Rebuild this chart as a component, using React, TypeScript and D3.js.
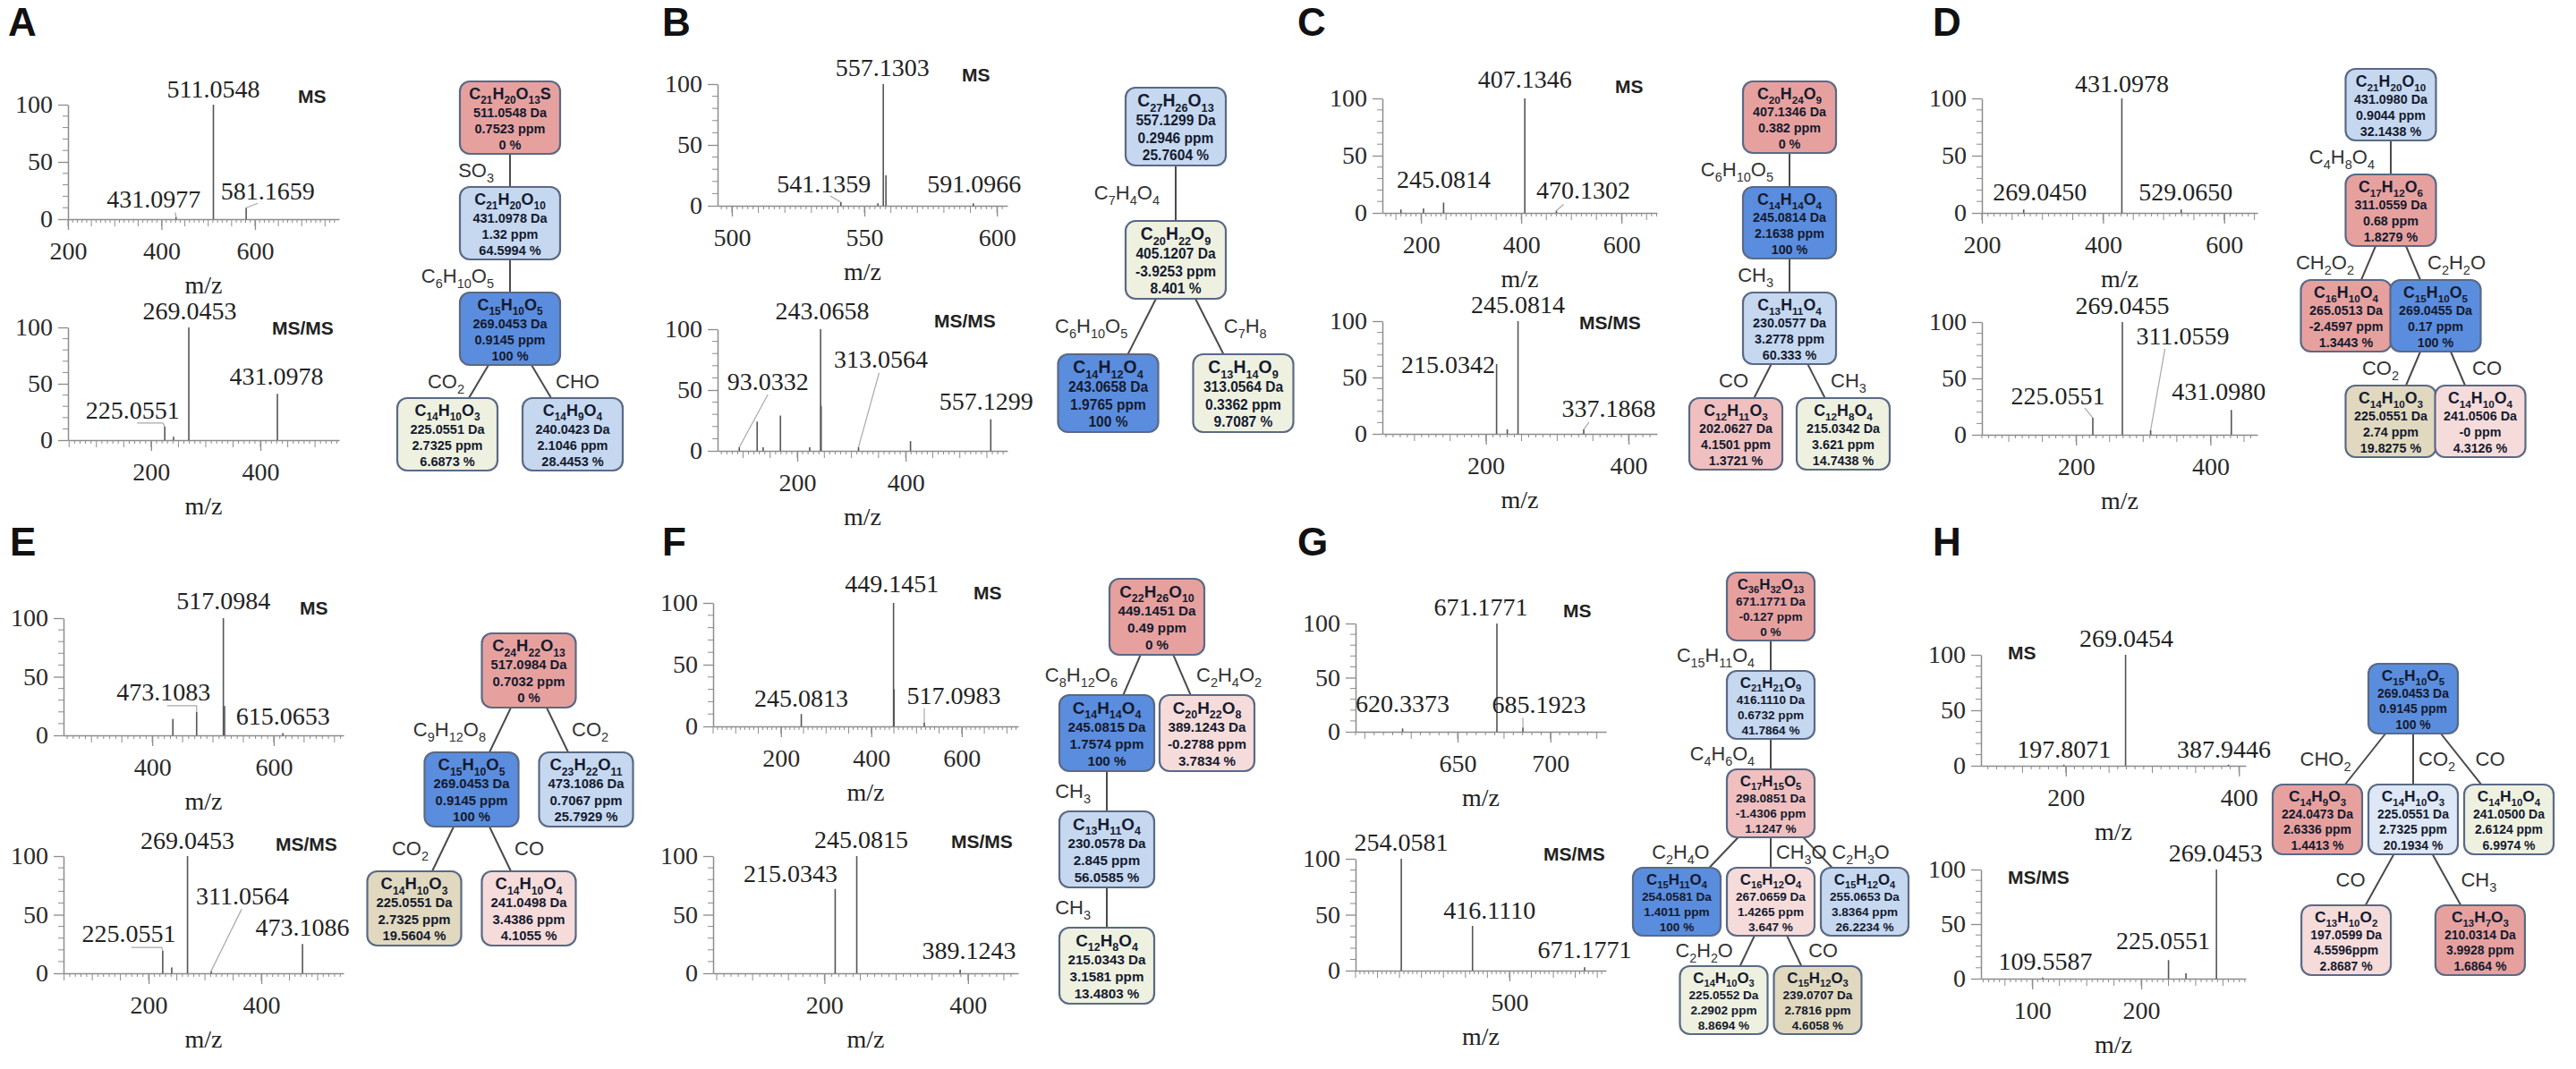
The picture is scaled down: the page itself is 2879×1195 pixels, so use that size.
import { useEffect, useRef } from 'react';
import * as d3 from 'd3';

const WIDTH = 2879;
const HEIGHT = 1195;
const SERIF = '"Liberation Serif", "Times New Roman", serif';
const SANS = '"Liberation Sans", Arial, sans-serif';

// ---------- panel A ----------
const aMsDomain = [200, 780];
const aMsTicks = [200, 400, 600];
const aMsPeaks = [
  { mz: 431.0977, i: 2 },
  { mz: 511.0548, i: 100 },
  { mz: 581.1659, i: 10 },
];
const aMsLabels = [511.0548, 431.0977, 581.1659];
const aMsmsDomain = [48, 544];
const aMsmsTicks = [200, 400];
const aMsmsPeaks = [
  { mz: 225.0551, i: 12 },
  { mz: 241.05, i: 3 },
  { mz: 269.0453, i: 100 },
  { mz: 431.0978, i: 41 },
];
const aMsmsLabels = [269.0453, 431.0978, 225.0551];
const aTree = [
  { id: '511', parent: '', f: 'C21H20O13S', da: '511.0548 Da', ppm: '0.7523 ppm', pct: '0 %', loss: '' },
  { id: '431', parent: '511', f: 'C21H20O10', da: '431.0978 Da', ppm: '1.32 ppm', pct: '64.5994 %', loss: 'SO3' },
  { id: '269', parent: '431', f: 'C15H10O5', da: '269.0453 Da', ppm: '0.9145 ppm', pct: '100 %', loss: 'C6H10O5' },
  { id: '225', parent: '269', f: 'C14H10O3', da: '225.0551 Da', ppm: '2.7325 ppm', pct: '6.6873 %', loss: 'CO2' },
  { id: '240', parent: '269', f: 'C14H9O4', da: '240.0423 Da', ppm: '2.1046 ppm', pct: '28.4453 %', loss: 'CHO' },
];

// ---------- panel B ----------
const bMsDomain = [494.6, 604];
const bMsTicks = [500, 550, 600];
const bMsPeaks = [
  { mz: 541.1359, i: 3 },
  { mz: 555.1, i: 2 },
  { mz: 557.1303, i: 100 },
  { mz: 558.13, i: 25 },
  { mz: 591.0966, i: 2 },
];
const bMsLabels = [557.1303, 541.1359, 591.0966];
const bMsmsDomain = [53, 588];
const bMsmsTicks = [200, 400];
const bMsmsPeaks = [
  { mz: 93.0332, i: 3 },
  { mz: 126, i: 24 },
  { mz: 137, i: 3 },
  { mz: 169, i: 29 },
  { mz: 223, i: 3 },
  { mz: 243.0658, i: 100 },
  { mz: 244.07, i: 37 },
  { mz: 313.0564, i: 3 },
  { mz: 409, i: 8 },
  { mz: 557.1299, i: 26 },
];
const bMsmsLabels = [243.0658, 557.1299, 313.0564, 93.0332];
const bTree = [
  { id: '557', parent: '', f: 'C27H26O13', da: '557.1299 Da', ppm: '0.2946 ppm', pct: '25.7604 %', loss: '' },
  { id: '405', parent: '557', f: 'C20H22O9', da: '405.1207 Da', ppm: '-3.9253 ppm', pct: '8.401 %', loss: 'C7H4O4' },
  { id: '243', parent: '405', f: 'C14H12O4', da: '243.0658 Da', ppm: '1.9765 ppm', pct: '100 %', loss: 'C6H10O5' },
  { id: '313', parent: '405', f: 'C13H14O9', da: '313.0564 Da', ppm: '0.3362 ppm', pct: '9.7087 %', loss: 'C7H8' },
];

// ---------- panel C ----------
const cMsDomain = [123, 671];
const cMsTicks = [200, 400, 600];
const cMsPeaks = [
  { mz: 160, i: 3 },
  { mz: 205, i: 4 },
  { mz: 245.0814, i: 9 },
  { mz: 407.1346, i: 100 },
  { mz: 470.1302, i: 2 },
];
const cMsLabels = [407.1346, 245.0814, 470.1302];
const cMsmsDomain = [55, 440];
const cMsmsTicks = [200, 400];
const cMsmsPeaks = [
  { mz: 215.0342, i: 62 },
  { mz: 230.06, i: 4 },
  { mz: 245.0814, i: 100 },
  { mz: 337.1868, i: 4 },
];
const cMsmsLabels = [245.0814, 215.0342, 337.1868];
const cTree = [
  { id: '407', parent: '', f: 'C20H24O9', da: '407.1346 Da', ppm: '0.382 ppm', pct: '0 %', loss: '' },
  { id: '245', parent: '407', f: 'C14H14O4', da: '245.0814 Da', ppm: '2.1638 ppm', pct: '100 %', loss: 'C6H10O5' },
  { id: '230', parent: '245', f: 'C13H11O4', da: '230.0577 Da', ppm: '3.2778 ppm', pct: '60.333 %', loss: 'CH3' },
  { id: '202', parent: '230', f: 'C12H11O3', da: '202.0627 Da', ppm: '4.1501 ppm', pct: '1.3721 %', loss: 'CO' },
  { id: '215', parent: '230', f: 'C12H8O4', da: '215.0342 Da', ppm: '3.621 ppm', pct: '14.7438 %', loss: 'CH3' },
];

// ---------- panel D ----------
const dMsDomain = [200, 655];
const dMsTicks = [200, 400, 600];
const dMsPeaks = [
  { mz: 269.045, i: 3 },
  { mz: 431.0978, i: 100 },
  { mz: 529.065, i: 3 },
];
const dMsLabels = [431.0978, 269.045, 529.065];
const dMsmsDomain = [60, 470];
const dMsmsTicks = [200, 400];
const dMsmsPeaks = [
  { mz: 225.0551, i: 15 },
  { mz: 269.0455, i: 100 },
  { mz: 311.0559, i: 4 },
  { mz: 431.098, i: 22 },
];
const dMsmsLabels = [269.0455, 311.0559, 225.0551, 431.098];
const dTree = [
  { id: '431', parent: '', f: 'C21H20O10', da: '431.0980 Da', ppm: '0.9044 ppm', pct: '32.1438 %', loss: '' },
  { id: '311', parent: '431', f: 'C17H12O6', da: '311.0559 Da', ppm: '0.68 ppm', pct: '1.8279 %', loss: 'C4H8O4' },
  { id: '265', parent: '311', f: 'C16H10O4', da: '265.0513 Da', ppm: '-2.4597 ppm', pct: '1.3443 %', loss: 'CH2O2' },
  { id: '269', parent: '311', f: 'C15H10O5', da: '269.0455 Da', ppm: '0.17 ppm', pct: '100 %', loss: 'C2H2O' },
  { id: '225', parent: '269', f: 'C14H10O3', da: '225.0551 Da', ppm: '2.74 ppm', pct: '19.8275 %', loss: 'CO2' },
  { id: '241', parent: '269', f: 'C14H10O4', da: '241.0506 Da', ppm: '-0 ppm', pct: '4.3126 %', loss: 'CO' },
];

// ---------- panel E ----------
const eMsDomain = [254, 715];
const eMsTicks = [400, 600];
const eMsPeaks = [
  { mz: 434, i: 14 },
  { mz: 473.1083, i: 20 },
  { mz: 517.0984, i: 100 },
  { mz: 519.1, i: 25 },
  { mz: 615.0653, i: 2 },
];
const eMsLabels = [517.0984, 473.1083, 615.0653];
const eMsmsDomain = [49, 546];
const eMsmsTicks = [200, 400];
const eMsmsPeaks = [
  { mz: 225.0551, i: 19 },
  { mz: 241.05, i: 5 },
  { mz: 269.0453, i: 100 },
  { mz: 311.0564, i: 2 },
  { mz: 473.1086, i: 25 },
];
const eMsmsLabels = [269.0453, 473.1086, 311.0564, 225.0551];
const eTree = [
  { id: '517', parent: '', f: 'C24H22O13', da: '517.0984 Da', ppm: '0.7032 ppm', pct: '0 %', loss: '' },
  { id: '269', parent: '517', f: 'C15H10O5', da: '269.0453 Da', ppm: '0.9145 ppm', pct: '100 %', loss: 'C9H12O8' },
  { id: '473', parent: '517', f: 'C23H22O11', da: '473.1086 Da', ppm: '0.7067 ppm', pct: '25.7929 %', loss: 'CO2' },
  { id: '225', parent: '269', f: 'C14H10O3', da: '225.0551 Da', ppm: '2.7325 ppm', pct: '19.5604 %', loss: 'CO2' },
  { id: '241', parent: '269', f: 'C14H10O4', da: '241.0498 Da', ppm: '3.4386 ppm', pct: '4.1055 %', loss: 'CO' },
];

// ---------- panel F ----------
const fMsDomain = [50, 725];
const fMsTicks = [200, 400, 600];
const fMsPeaks = [
  { mz: 245.0813, i: 10 },
  { mz: 449.1451, i: 100 },
  { mz: 450.15, i: 30 },
  { mz: 517.0983, i: 3 },
];
const fMsLabels = [449.1451, 245.0813, 517.0983];
const fMsmsDomain = [45, 470];
const fMsmsTicks = [200, 400];
const fMsmsPeaks = [
  { mz: 215.0343, i: 72 },
  { mz: 245.0815, i: 100 },
  { mz: 389.1243, i: 3 },
];
const fMsmsLabels = [245.0815, 215.0343, 389.1243];
const fTree = [
  { id: '449', parent: '', f: 'C22H26O10', da: '449.1451 Da', ppm: '0.49 ppm', pct: '0 %', loss: '' },
  { id: '245', parent: '449', f: 'C14H14O4', da: '245.0815 Da', ppm: '1.7574 ppm', pct: '100 %', loss: 'C8H12O6' },
  { id: '389', parent: '449', f: 'C20H22O8', da: '389.1243 Da', ppm: '-0.2788 ppm', pct: '3.7834 %', loss: 'C2H4O2' },
  { id: '230', parent: '245', f: 'C13H11O4', da: '230.0578 Da', ppm: '2.845 ppm', pct: '56.0585 %', loss: 'CH3' },
  { id: '215', parent: '230', f: 'C12H8O4', da: '215.0343 Da', ppm: '3.1581 ppm', pct: '13.4803 %', loss: 'CH3' },
];

// ---------- panel G ----------
const gMsDomain = [595, 730];
const gMsTicks = [650, 700];
const gMsPeaks = [
  { mz: 620.3373, i: 3 },
  { mz: 671.1771, i: 100 },
  { mz: 685.1923, i: 4 },
];
const gMsLabels = [671.1771, 620.3373, 685.1923];
const gMsmsDomain = [150, 720];
const gMsmsTicks = [500];
const gMsmsPeaks = [
  { mz: 254.0581, i: 100 },
  { mz: 416.111, i: 40 },
  { mz: 671.1771, i: 3 },
];
const gMsmsLabels = [254.0581, 416.111, 671.1771];
const gTree = [
  { id: '671', parent: '', f: 'C36H32O13', da: '671.1771 Da', ppm: '-0.127 ppm', pct: '0 %', loss: '' },
  { id: '416', parent: '671', f: 'C21H21O9', da: '416.1110 Da', ppm: '0.6732 ppm', pct: '41.7864 %', loss: 'C15H11O4' },
  { id: '298', parent: '416', f: 'C17H15O5', da: '298.0851 Da', ppm: '-1.4306 ppm', pct: '1.1247 %', loss: 'C4H6O4' },
  { id: '254', parent: '298', f: 'C15H11O4', da: '254.0581 Da', ppm: '1.4011 ppm', pct: '100 %', loss: 'C2H4O' },
  { id: '267', parent: '298', f: 'C16H12O4', da: '267.0659 Da', ppm: '1.4265 ppm', pct: '3.647 %', loss: 'CH3O' },
  { id: '255', parent: '298', f: 'C15H12O4', da: '255.0653 Da', ppm: '3.8364 ppm', pct: '26.2234 %', loss: 'C2H3O' },
  { id: '225', parent: '267', f: 'C14H10O3', da: '225.0552 Da', ppm: '2.2902 ppm', pct: '8.8694 %', loss: 'C2H2O' },
  { id: '239', parent: '267', f: 'C15H12O3', da: '239.0707 Da', ppm: '2.7816 ppm', pct: '4.6058 %', loss: 'CO' },
];

// ---------- panel H ----------
const hMsDomain = [102, 408];
const hMsTicks = [200, 400];
const hMsPeaks = [
  { mz: 197.8071, i: 1 },
  { mz: 269.0454, i: 100 },
  { mz: 387.9446, i: 1 },
];
const hMsLabels = [269.0454, 197.8071, 387.9446];
const hMsmsDomain = [53, 296];
const hMsmsTicks = [100, 200];
const hMsmsPeaks = [
  { mz: 109.5587, i: 1 },
  { mz: 225.0551, i: 17 },
  { mz: 241.05, i: 5 },
  { mz: 269.0453, i: 100 },
];
const hMsmsLabels = [269.0453, 225.0551, 109.5587];
const hTree = [
  { id: '269', parent: '', f: 'C15H10O5', da: '269.0453 Da', ppm: '0.9145 ppm', pct: '100 %', loss: '' },
  { id: '224', parent: '269', f: 'C14H9O3', da: '224.0473 Da', ppm: '2.6336 ppm', pct: '1.4413 %', loss: 'CHO2' },
  { id: '225', parent: '269', f: 'C14H10O3', da: '225.0551 Da', ppm: '2.7325 ppm', pct: '20.1934 %', loss: 'CO2' },
  { id: '241', parent: '269', f: 'C14H10O4', da: '241.0500 Da', ppm: '2.6124 ppm', pct: '6.9974 %', loss: 'CO' },
  { id: '197', parent: '225', f: 'C13H10O2', da: '197.0599 Da', ppm: '4.5596ppm', pct: '2.8687 %', loss: 'CO' },
  { id: '210', parent: '225', f: 'C13H7O3', da: '210.0314 Da', ppm: '3.9928 ppm', pct: '1.6864 %', loss: 'CH3' },
];

// ---------- styles ----------
const COLORS: Record<string, string> = {
  red: '#e6a19f',
  pink: '#efc0bf',
  lpink: '#f5dcdb',
  pale: '#eef1e0',
  tan: '#e0d9bf',
  lblue: '#c5d8f0',
  xlblue: '#dde7f5',
  blue: '#5a8dde',
};

const nodeFill: Record<string, Record<string, string>> = {
  A: { '511': 'red', '431': 'lblue', '269': 'blue', '225': 'pale', '240': 'lblue' },
  B: { '557': 'lblue', '405': 'pale', '243': 'blue', '313': 'pale' },
  C: { '407': 'red', '245': 'blue', '230': 'lblue', '202': 'pink', '215': 'pale' },
  D: { '431': 'lblue', '311': 'red', '265': 'red', '269': 'blue', '225': 'tan', '241': 'lpink' },
  E: { '517': 'red', '269': 'blue', '473': 'lblue', '225': 'tan', '241': 'lpink' },
  F: { '449': 'red', '245': 'blue', '389': 'lpink', '230': 'lblue', '215': 'pale' },
  G: { '671': 'red', '416': 'lblue', '298': 'pink', '254': 'blue', '267': 'lpink', '255': 'lblue', '225': 'pale', '239': 'tan' },
  H: { '269': 'blue', '224': 'red', '225': 'xlblue', '241': 'pale', '197': 'lpink', '210': 'red' },
};

// label offsets [dx, dy, leader points] relative to peak top
type Lab = [number, number, number[][]?];

const layout: any = {
  A: {
    letter: [9, 40],
    ms: { x: [76, 379], y: [117, 245], minor: 10, mid: 50, title: [333, 115],
      lab: { '511.0548': [0, -8], '431.0977': [-25, -10, [[24, 5]]], '581.1659': [24, -9, [[-11, 4]]] } },
    msms: { x: [76, 379], y: [366, 492], minor: 10, mid: 50, title: [304, 374],
      lab: { '269.0453': [1, -9], '431.0978': [-1, -10], '225.0551': [-36, -9, [[5, 5], [34, 5]]] } },
    tree: { cx: 570, top: 91, dx: 140, dy: 118, w: 112, h: 81 },
  },
  B: {
    letter: [740, 40],
    ms: { x: [802, 1126], y: [94, 230], minor: 2, mid: 10, title: [1075, 91],
      lab: { '557.1303': [-1, -9], '541.1359': [-19, -11, [[7, 4]]], '591.0966': [1, -12] } },
    msms: { x: [802, 1126], y: [368, 504], minor: 10, mid: 50, title: [1044, 366],
      lab: { '243.0658': [2, -11], '557.1299': [-5, -11], '313.0564': [25, -89, [[-2, 6]]], '93.0332': [32, -64, [[0, 5]]] } },
    tree: { cx: 1314, top: 98, dx: 151, dy: 149, w: 112, h: 87 },
  },
  C: {
    letter: [1450, 40],
    ms: { x: [1545, 1852], y: [110, 238], minor: 10, mid: 50, title: [1805, 104],
      lab: { '407.1346': [0, -12], '245.0814': [0, -16], '470.1302': [30, -13, [[-22, 6]]] } },
    msms: { x: [1545, 1852], y: [359, 485], minor: 10, mid: 50, title: [1765, 368],
      lab: { '245.0814': [0, -9], '215.0342': [-54, 10], '337.1868': [28, -14, [[-22, 6]]] } },
    tree: { cx: 2000, top: 91, dx: 120, dy: 118, w: 104, h: 80 },
  },
  D: {
    letter: [2160, 40],
    ms: { x: [2215, 2523], y: [110, 238], minor: 10, mid: 50,
      lab: { '431.0978': [0, -7], '269.0450': [18, -10], '529.0650': [5, -10] } },
    msms: { x: [2215, 2523], y: [360, 486], minor: 10, mid: 50,
      lab: { '269.0455': [0, -9], '311.0559': [36, -96, [[-20, 5]]], '225.0551': [-39, -15, [[30, 4]]], '431.0980': [-14, -11] } },
    tree: { cx: 2672, top: 77, dx: 100, dy: 118, w: 101, h: 80 },
  },
  E: {
    letter: [11, 621],
    ms: { x: [71, 384], y: [691, 822], minor: 10, mid: 50, title: [335, 687],
      lab: { '517.0984': [0, -10], '473.1083': [-37, -13, [[4, 6], [37, 6]]], '615.0653': [0, -9] } },
    msms: { x: [71, 384], y: [957, 1088], minor: 10, mid: 50, title: [308, 951],
      lab: { '269.0453': [0, -8], '473.1086': [0, -9], '311.0564': [35, -74, [[-1, 5]]], '225.0551': [-38, -10, [[3, 6], [37, 6]]] } },
    tree: { cx: 591, top: 708, dx: 128, dy: 133, w: 105, h: 83 },
  },
  F: {
    letter: [740, 621],
    ms: { x: [797, 1138], y: [674, 812], minor: 10, mid: 50, title: [1088, 670],
      lab: { '449.1451': [-2, -12], '245.0813': [0, -8], '517.0983': [33, -21, [[-33, 5]]] } },
    msms: { x: [797, 1138], y: [957, 1088], minor: 10, mid: 50, title: [1063, 948],
      lab: { '245.0815': [5, -9], '215.0343': [-50, -8], '389.1243': [10, -12] } },
    tree: { cx: 1293, top: 647, dx: 112, dy: 130, w: 106, h: 85 },
  },
  G: {
    letter: [1450, 621],
    ms: { x: [1515, 1795], y: [697, 818], minor: 5, mid: 25, title: [1747, 690],
      lab: { '671.1771': [-18, -9], '620.3373': [0, -18], '685.1923': [18, -16, [[-18, 5]]] } },
    msms: { x: [1515, 1795], y: [960, 1085], minor: 10, mid: 50, title: [1725, 962],
      lab: { '254.0581': [0, -9], '416.1110': [19, -8], '671.1771': [0, -10] } },
    tree: { cx: 1979, top: 640, dx: 105, dy: 110, w: 98, h: 76 },
  },
  H: {
    letter: [2160, 621],
    ms: { x: [2214, 2510], y: [732, 856], minor: 10, mid: 50, title: [2244, 737],
      lab: { '269.0454': [1, -9], '197.8071': [0, -8], '387.9446': [-5, -8] } },
    msms: { x: [2214, 2510], y: [972, 1094], minor: 5, mid: 25, title: [2244, 988],
      lab: { '269.0453': [-1, -9], '225.0551': [-6, -12], '109.5587': [3, -9] } },
    tree: { cx: 2697, top: 742, dx: 107, dy: 135, w: 100, h: 78, sep2: 1.4 },
  },
};

const panels = [
  { key: 'A', ms: [aMsDomain, aMsTicks, aMsPeaks, aMsLabels], msms: [aMsmsDomain, aMsmsTicks, aMsmsPeaks, aMsmsLabels], tree: aTree, titles: true },
  { key: 'B', ms: [bMsDomain, bMsTicks, bMsPeaks, bMsLabels], msms: [bMsmsDomain, bMsmsTicks, bMsmsPeaks, bMsmsLabels], tree: bTree, titles: true },
  { key: 'C', ms: [cMsDomain, cMsTicks, cMsPeaks, cMsLabels], msms: [cMsmsDomain, cMsmsTicks, cMsmsPeaks, cMsmsLabels], tree: cTree, titles: true },
  { key: 'D', ms: [dMsDomain, dMsTicks, dMsPeaks, dMsLabels], msms: [dMsmsDomain, dMsmsTicks, dMsmsPeaks, dMsmsLabels], tree: dTree, titles: false },
  { key: 'E', ms: [eMsDomain, eMsTicks, eMsPeaks, eMsLabels], msms: [eMsmsDomain, eMsmsTicks, eMsmsPeaks, eMsmsLabels], tree: eTree, titles: true },
  { key: 'F', ms: [fMsDomain, fMsTicks, fMsPeaks, fMsLabels], msms: [fMsmsDomain, fMsmsTicks, fMsmsPeaks, fMsmsLabels], tree: fTree, titles: true },
  { key: 'G', ms: [gMsDomain, gMsTicks, gMsPeaks, gMsLabels], msms: [gMsmsDomain, gMsmsTicks, gMsmsPeaks, gMsmsLabels], tree: gTree, titles: true },
  { key: 'H', ms: [hMsDomain, hMsTicks, hMsPeaks, hMsLabels], msms: [hMsmsDomain, hMsmsTicks, hMsmsPeaks, hMsmsLabels], tree: hTree, titles: true },
];

// writes a chemical formula with subscript digits
function addFormula(text: any, str: string, size: number) {
  const parts = str.match(/[A-Za-z]+|\d+/g) || [];
  let low = false;
  parts.forEach((p) => {
    const num = /\d/.test(p);
    const t = text.append('tspan').text(p);
    if (num) {
      t.attr('font-size', size * 0.66).attr('dy', low ? 0 : size * 0.28);
      low = true;
    } else {
      t.attr('font-size', size).attr('dy', low ? -size * 0.28 : 0);
      low = false;
    }
  });
}

function drawSpectrum(g: any, spec: any[], lay: any, title: string | null) {
  const [domain, ticks, peaks, labels] = spec;
  const axisColor = '#8c8c8c';
  const x = d3.scaleLinear().domain(domain).range(lay.x);
  const y = d3.scaleLinear().domain([0, 100]).range([lay.y[1], lay.y[0]]);

  // minor ticks on x
  const minors = d3.range(Math.ceil(domain[0] / lay.minor) * lay.minor, domain[1], lay.minor);
  g.append('g')
    .selectAll('line')
    .data(minors)
    .join('line')
    .attr('x1', (d: number) => x(d))
    .attr('x2', (d: number) => x(d))
    .attr('y1', lay.y[1])
    .attr('y2', (d: number) => lay.y[1] + (Math.abs(d / lay.mid - Math.round(d / lay.mid)) < 1e-6 ? 8 : 4))
    .attr('stroke', axisColor)
    .attr('stroke-width', 1);

  const xa = g.append('g')
    .attr('transform', `translate(0,${lay.y[1]})`)
    .call(d3.axisBottom(x).tickValues(ticks).tickSize(12).tickSizeOuter(0).tickPadding(13).tickFormat(d3.format('d')));

  // minor ticks on y
  g.append('g')
    .selectAll('line')
    .data(d3.range(10, 100, 10).filter((v) => v !== 50))
    .join('line')
    .attr('x1', lay.x[0] - 6)
    .attr('x2', lay.x[0])
    .attr('y1', (d: number) => y(d))
    .attr('y2', (d: number) => y(d))
    .attr('stroke', axisColor);

  const ya = g.append('g')
    .attr('transform', `translate(${lay.x[0]},0)`)
    .call(d3.axisLeft(y).tickValues([0, 50, 100]).tickSize(11).tickSizeOuter(0).tickPadding(6));

  [xa, ya].forEach((a) => {
    a.select('.domain').attr('stroke', axisColor).attr('stroke-width', 1.5);
    a.selectAll('.tick line').attr('stroke', axisColor).attr('stroke-width', 1.3);
    a.selectAll('text').attr('font-family', SERIF).attr('font-size', 28).attr('fill', '#2a2a2a');
  });

  // peaks
  g.append('g')
    .selectAll('line')
    .data(peaks)
    .join('line')
    .attr('x1', (d: any) => x(d.mz))
    .attr('x2', (d: any) => x(d.mz))
    .attr('y1', y(0))
    .attr('y2', (d: any) => y(d.i))
    .attr('stroke', '#555')
    .attr('stroke-width', 1.6);

  // peak labels with leader lines
  labels.forEach((mz: number) => {
    const p = peaks.find((d: any) => d.mz === mz);
    const key = mz.toFixed(4);
    const [dx, dy, lead] = (lay.lab[key] || [0, -8]) as Lab;
    const px = x(p.mz);
    const py = y(p.i);
    const tx = px + dx;
    const ty = py + dy;
    if (lead) {
      const pts = lead.map(([a, b]) => [tx + a, ty + b]).concat([[px, py]]);
      g.append('path')
        .attr('d', d3.line()(pts as [number, number][]))
        .attr('fill', 'none')
        .attr('stroke', '#a8a8a8')
        .attr('stroke-width', 1.2);
    }
    g.append('text')
      .attr('x', tx)
      .attr('y', ty)
      .attr('text-anchor', 'middle')
      .attr('font-family', SERIF)
      .attr('font-size', 28)
      .attr('fill', '#222')
      .text(key);
  });

  if (title && lay.title) {
    g.append('text')
      .attr('x', lay.title[0])
      .attr('y', lay.title[1])
      .attr('font-family', SANS)
      .attr('font-weight', 'bold')
      .attr('font-size', 21)
      .attr('fill', '#222')
      .text(title);
  }

  g.append('text')
    .attr('x', (lay.x[0] + lay.x[1]) / 2)
    .attr('y', lay.y[1] + 83)
    .attr('text-anchor', 'middle')
    .attr('font-family', SERIF)
    .attr('font-size', 28)
    .attr('fill', '#222')
    .text('m/z');
}

function drawTree(g: any, nodes: any[], lay: any, fills: Record<string, string>) {
  const root: any = d3.stratify()
    .id((d: any) => d.id)
    .parentId((d: any) => d.parent || null)(nodes);
  d3.tree()
    .nodeSize([lay.dx, lay.dy])
    .separation((a: any) => (a.depth === 2 && lay.sep2 ? lay.sep2 : 1))(root);

  const { w, h } = lay;
  const s = h / 81;
  const X = (n: any) => lay.cx + n.x;
  const Y = (n: any) => lay.top + n.y;

  // edges
  g.append('g')
    .selectAll('line')
    .data(root.links())
    .join('line')
    .attr('x1', (d: any) => X(d.source))
    .attr('y1', (d: any) => Y(d.source) + h / 2)
    .attr('x2', (d: any) => X(d.target))
    .attr('y2', (d: any) => Y(d.target) + h / 2)
    .attr('stroke', '#4a4a4a')
    .attr('stroke-width', 2);

  // edge labels
  root.links().forEach((l: any) => {
    const p = l.source;
    const c = l.target;
    const y0 = Y(p) + h;
    const y1 = Y(c);
    const my = (y0 + y1) / 2;
    const t = (my - (Y(p) + h / 2)) / (Y(c) - Y(p));
    const mx = X(p) + (X(c) - X(p)) * t;
    let side = 'left';
    let gap = 16;
    if (X(c) > X(p) + 1) side = 'right';
    else if (Math.abs(X(c) - X(p)) <= 1) {
      gap = 18;
      if (p.children.length === 3) {
        side = 'right';
        gap = 6;
      }
    }
    const txt = g.append('text')
      .attr('x', side === 'left' ? mx - gap : mx + gap)
      .attr('y', my + 7)
      .attr('text-anchor', side === 'left' ? 'end' : 'start')
      .attr('font-family', SANS)
      .attr('fill', '#333');
    addFormula(txt, c.data.loss, 22 * Math.min(1, s + 0.05));
  });

  // boxes
  const nodeG = g.append('g')
    .selectAll('g')
    .data(root.descendants())
    .join('g')
    .attr('transform', (d: any) => `translate(${X(d) - w / 2},${Y(d)})`);

  nodeG.append('rect')
    .attr('width', w)
    .attr('height', h)
    .attr('rx', 11)
    .attr('fill', (d: any) => COLORS[fills[d.id]])
    .attr('stroke', '#5a6985')
    .attr('stroke-width', 2.2);

  nodeG.each(function (this: any, d: any) {
    const ng = d3.select(this);
    const f = ng.append('text')
      .attr('x', w / 2)
      .attr('y', 20 * s)
      .attr('text-anchor', 'middle')
      .attr('font-family', SANS)
      .attr('font-weight', 'bold')
      .attr('fill', '#151a2e');
    addFormula(f, d.data.f, 18 * s);
    [d.data.da, d.data.ppm, d.data.pct].forEach((line: string, k: number) => {
      ng.append('text')
        .attr('x', w / 2)
        .attr('y', (39.5 + 18 * k) * s)
        .attr('text-anchor', 'middle')
        .attr('font-family', SANS)
        .attr('font-weight', 'bold')
        .attr('font-size', 14.5 * s)
        .attr('fill', '#151a2e')
        .text(line);
    });
  });
}

export default function App() {
  const svgRef = useRef<SVGSVGElement>(null);

  useEffect(() => {
    if (!svgRef.current) return;
    const svg = d3.select(svgRef.current);
    svg.selectAll('*').remove();
    svg.append('rect').attr('width', WIDTH).attr('height', HEIGHT).attr('fill', '#fff');

    panels.forEach((p) => {
      const lay = layout[p.key];
      const g = svg.append('g');
      g.append('text')
        .attr('x', lay.letter[0])
        .attr('y', lay.letter[1])
        .attr('font-family', SANS)
        .attr('font-weight', 'bold')
        .attr('font-size', 44)
        .attr('fill', '#111')
        .text(p.key);
      drawSpectrum(g.append('g'), p.ms, lay.ms, p.titles ? 'MS' : null);
      drawSpectrum(g.append('g'), p.msms, lay.msms, p.titles ? 'MS/MS' : null);
      drawTree(g.append('g'), p.tree, lay.tree, nodeFill[p.key]);
    });
  }, []);

  return (
    <svg
      ref={svgRef}
      width={WIDTH}
      height={HEIGHT}
      style={{ position: 'absolute', left: 0, top: 0, background: '#fff' }}
    />
  );
}
